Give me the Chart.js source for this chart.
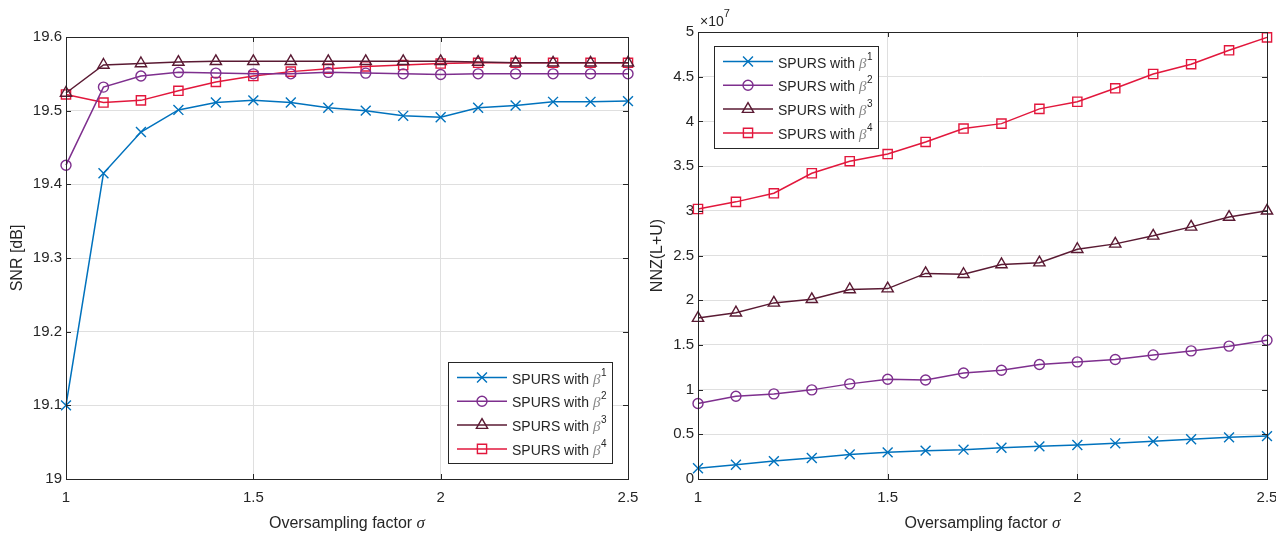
<!DOCTYPE html>
<html>
<head>
<meta charset="utf-8">
<title>SPURS SNR and NNZ</title>
<script src="https://cdn.jsdelivr.net/npm/chart.js@4.4.0/dist/chart.umd.min.js"></script>
<style>
    body { margin: 0; background: #fff; }
    #wrap { position: relative; width: 1276px; height: 533px; }
    #wrap canvas { position: absolute; top: 0; }
</style>
</head>
<body>
<div id="wrap">
    <canvas id="snrChart" width="640" height="533" style="left:0"></canvas>
    <canvas id="nnzChart" width="636" height="533" style="left:640px"></canvas>
</div>
<script>
// Oversampling factor (x values)
const sigma = [1.0, 1.1, 1.2, 1.3, 1.4, 1.5, 1.6, 1.7, 1.8, 1.9, 2.0, 2.1, 2.2, 2.3, 2.4, 2.5];
const sigmaTicks = [1, 1.5, 2, 2.5];

// SNR [dB]
const snrBeta1 = [19.100, 19.415, 19.471, 19.501, 19.511, 19.514, 19.511, 19.504, 19.500, 19.493, 19.491, 19.504, 19.507, 19.512, 19.512, 19.513];
const snrBeta2 = [19.426, 19.532, 19.547, 19.552, 19.551, 19.550, 19.550, 19.552, 19.551, 19.550, 19.549, 19.550, 19.550, 19.550, 19.550, 19.550];
const snrBeta3 = [19.524, 19.562, 19.564, 19.566, 19.567, 19.567, 19.567, 19.567, 19.567, 19.567, 19.567, 19.566, 19.565, 19.565, 19.565, 19.565];
const snrBeta4 = [19.522, 19.511, 19.514, 19.527, 19.539, 19.547, 19.553, 19.557, 19.560, 19.562, 19.564, 19.565, 19.565, 19.565, 19.565, 19.565];
const snrTicks = [19, 19.1, 19.2, 19.3, 19.4, 19.5, 19.6];

// NNZ(L+U), in units of 10^7
const nnzBeta1 = [0.12, 0.16, 0.20, 0.235, 0.275, 0.298, 0.317, 0.328, 0.350, 0.365, 0.380, 0.399, 0.421, 0.444, 0.466, 0.480];
const nnzBeta2 = [0.845, 0.925, 0.952, 0.997, 1.064, 1.116, 1.108, 1.185, 1.217, 1.281, 1.310, 1.337, 1.388, 1.433, 1.486, 1.553];
const nnzBeta3 = [1.80, 1.86, 1.97, 2.01, 2.12, 2.13, 2.30, 2.29, 2.40, 2.42, 2.57, 2.63, 2.72, 2.82, 2.93, 3.00];
const nnzBeta4 = [3.02, 3.10, 3.196, 3.42, 3.555, 3.635, 3.77, 3.92, 3.975, 4.14, 4.22, 4.37, 4.53, 4.64, 4.795, 4.94];
const nnzTicks = [0, 0.5, 1, 1.5, 2, 2.5, 3, 3.5, 4, 4.5, 5];
const nnzExponent = 7;

const seriesLabels = ['SPURS with ', 'SPURS with ', 'SPURS with ', 'SPURS with '];
const betaPowers = ['1', '2', '3', '4'];
const seriesColors = ['#0072BD', '#7E2F8E', '#5A1A33', '#E2173C'];
const seriesMarkers = ['crossRot', 'circle', 'triangle', 'rect'];
const markerSizes = [7, 5, 6.5, 6.5];

const FONT = "'Liberation Sans', Arial, Helvetica, sans-serif";
const INK = '#262626';
const GRID = '#DFDFDF';

function makeDatasets(seriesList) {
    return seriesList.map((values, i) => ({
        label: seriesLabels[i] + 'β' + betaPowers[i],
        data: values.map((v, k) => ({ x: sigma[k], y: v })),
        borderColor: seriesColors[i],
        borderWidth: 1.5,
        pointStyle: seriesMarkers[i],
        pointRadius: markerSizes[i],
        pointBorderWidth: 1.4,
        pointBorderColor: seriesColors[i],
        pointBackgroundColor: 'rgba(0,0,0,0)',
        tension: 0,
        clip: false
    }));
}

function fmt(v) {
    return String(Number(v.toFixed(2)));
}

// MATLAB-like frame, inward ticks, legend, x title
const matlabBox = {
    id: 'matlabBox',
    afterDatasetsDraw(chart) {
        const { ctx, chartArea: a, scales } = chart;
        ctx.save();
        ctx.strokeStyle = INK;
        ctx.lineWidth = 1;
        ctx.beginPath();
        scales.x.ticks.forEach(t => {
            const px = Math.round(scales.x.getPixelForValue(t.value)) + 0.5;
            ctx.moveTo(px, a.bottom); ctx.lineTo(px, a.bottom - 5);
            ctx.moveTo(px, a.top); ctx.lineTo(px, a.top + 5);
        });
        scales.y.ticks.forEach(t => {
            const py = Math.round(scales.y.getPixelForValue(t.value)) + 0.5;
            ctx.moveTo(a.left, py); ctx.lineTo(a.left + 5, py);
            ctx.moveTo(a.right, py); ctx.lineTo(a.right - 5, py);
        });
        ctx.stroke();
        ctx.strokeRect(Math.round(a.left) + 0.5, Math.round(a.top) + 0.5,
            Math.round(a.right - a.left), Math.round(a.bottom - a.top));
        ctx.restore();
    },
    afterDraw(chart, args, opts) {
        const { ctx, chartArea: a } = chart;
        ctx.save();

        // x axis title with italic sigma
        ctx.fillStyle = INK;
        ctx.textBaseline = 'alphabetic';
        ctx.font = '16px ' + FONT;
        const mainText = 'Oversampling factor ';
        const w1 = ctx.measureText(mainText).width;
        ctx.font = 'italic 17px "Liberation Serif", serif';
        const w2 = ctx.measureText('σ').width;
        const tx = (a.left + a.right) / 2 - (w1 + w2) / 2;
        ctx.font = '16px ' + FONT;
        ctx.fillText(mainText, tx, 528);
        ctx.font = 'italic 17px "Liberation Serif", serif';
        ctx.fillText('σ', tx + w1, 528);

        // exponent label
        if (opts.exponent) {
            ctx.font = '14px ' + FONT;
            ctx.fillText('×10', a.left + 2, a.top - 6);
            const ew = ctx.measureText('×10').width;
            ctx.font = '11px ' + FONT;
            ctx.fillText(String(opts.exponent), a.left + 2 + ew, a.top - 15);
        }

        // legend
        const lg = opts.legend;
        ctx.fillStyle = '#fff';
        ctx.fillRect(lg.x, lg.y, lg.w, lg.h);
        ctx.strokeStyle = INK;
        ctx.lineWidth = 1;
        ctx.strokeRect(lg.x + 0.5, lg.y + 0.5, lg.w, lg.h);
        chart.data.datasets.forEach((ds, i) => {
            const ry = lg.y + 15.5 + i * 23.8;
            ctx.strokeStyle = ds.borderColor;
            ctx.lineWidth = 1.5;
            ctx.beginPath();
            ctx.moveTo(lg.x + 9, ry);
            ctx.lineTo(lg.x + 59, ry);
            ctx.stroke();
            ctx.fillStyle = 'rgba(0,0,0,0)';
            ctx.lineWidth = 1.4;
            Chart.helpers.drawPoint(ctx, {
                pointStyle: ds.pointStyle, radius: ds.pointRadius,
                borderWidth: 1.4, rotation: 0
            }, lg.x + 34, ry);
            ctx.fillStyle = INK;
            ctx.font = '14px ' + FONT;
            const base = ry + 6;
            let x0 = lg.x + 64;
            ctx.fillText(seriesLabels[i], x0, base);
            x0 += ctx.measureText(seriesLabels[i]).width;
            ctx.fillStyle = '#888';
            ctx.font = 'italic 15px "Liberation Serif", serif';
            ctx.fillText('β', x0, base);
            x0 += ctx.measureText('β').width + 0.5;
            ctx.fillStyle = INK;
            ctx.font = '10px ' + FONT;
            ctx.fillText(betaPowers[i], x0, base - 8);
        });
        ctx.restore();
    }
};

function buildChart(canvasId, seriesList, yTicks, yTitle, layout, legendBox, exponent) {
    const ctx = document.getElementById(canvasId).getContext('2d');
    return new Chart(ctx, {
        type: 'line',
        data: { datasets: makeDatasets(seriesList) },
        options: {
            responsive: false,
            animation: false,
            layout: {
                autoPadding: false,
                padding: { top: layout.top, right: layout.right, left: 0, bottom: 0 }
            },
            plugins: {
                legend: { display: false },
                tooltip: { enabled: false },
                matlabBox: { legend: legendBox, exponent: exponent }
            },
            scales: {
                x: {
                    type: 'linear',
                    min: sigmaTicks[0],
                    max: sigmaTicks[sigmaTicks.length - 1],
                    afterBuildTicks: axis => { axis.ticks = sigmaTicks.map(v => ({ value: v })); },
                    afterFit: axis => {
                        axis.height = 54;
                        axis.paddingLeft = 0;
                        axis.paddingRight = 0;
                    },
                    grid: { color: GRID, drawTicks: false },
                    border: { display: false },
                    ticks: {
                        padding: 10, maxRotation: 0, color: INK,
                        font: { family: FONT, size: 15 },
                        callback: v => fmt(v)
                    }
                },
                y: {
                    min: yTicks[0],
                    max: yTicks[yTicks.length - 1],
                    afterBuildTicks: axis => { axis.ticks = yTicks.map(v => ({ value: v })); },
                    afterFit: axis => {
                        axis.width = layout.yWidth;
                        axis.paddingTop = 0;
                        axis.paddingBottom = 0;
                    },
                    grid: { color: GRID, drawTicks: false },
                    border: { display: false },
                    ticks: {
                        padding: 4, color: INK,
                        font: { family: FONT, size: 15 },
                        callback: v => fmt(v)
                    },
                    title: {
                        display: true, text: yTitle, color: INK,
                        font: { family: FONT, size: 16 },
                        padding: { top: 8, bottom: 0 }
                    }
                }
            }
        },
        plugins: [matlabBox]
    });
}

buildChart('snrChart', [snrBeta1, snrBeta2, snrBeta3, snrBeta4], snrTicks, 'SNR [dB]',
    { top: 37, right: 12, yWidth: 66 }, { x: 448, y: 362, w: 164, h: 101 }, null);

buildChart('nnzChart', [nnzBeta1, nnzBeta2, nnzBeta3, nnzBeta4], nnzTicks, 'NNZ(L+U)',
    { top: 32, right: 9, yWidth: 58 }, { x: 74, y: 46, w: 164, h: 102 }, nnzExponent);
</script>
</body>
</html>
